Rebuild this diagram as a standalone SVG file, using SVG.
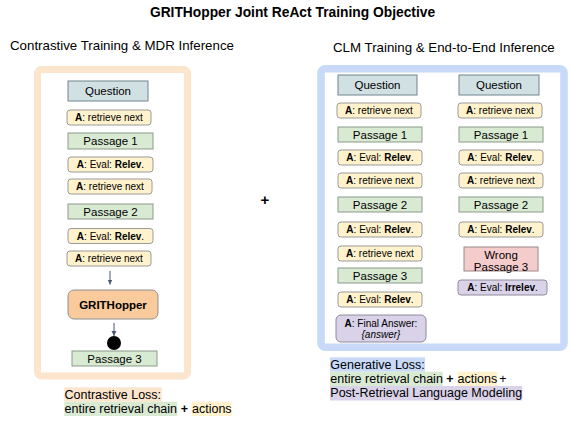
<svg xmlns="http://www.w3.org/2000/svg" width="570" height="421" viewBox="0 0 570 421">
<defs>
<style>
text{font-family:"Liberation Sans",Arial,sans-serif;fill:#000}
.title{font-size:13.8px;font-weight:bold}
.sub{font-size:13.3px}
.q{fill:#d0e0e3;stroke:#6f868c;stroke-width:1}
.p{fill:#d9ead3;stroke:#8a9a8a;stroke-width:1}
.a{fill:#fff2cc;stroke:#9a9a9a;stroke-width:1}
.l{fill:#d9d2e9;stroke:#8f8a9a;stroke-width:1}
.w{fill:#f4cccc;stroke:#9a8a8a;stroke-width:1}
.g{fill:#f9cb9c;stroke:#8f8f8f;stroke-width:1}
.nt{font-size:11.5px;text-anchor:middle}
.at{font-size:10px;text-anchor:middle}
.lg{font-size:12.5px}
.conn{stroke:#4a5870;stroke-width:1;fill:none}
</style>
<marker id="ah" markerWidth="6" markerHeight="6" refX="5" refY="3" orient="auto" markerUnits="userSpaceOnUse">
<path d="M0,0.5 L5,3 L0,5.5 Z" fill="#4a5870"/>
</marker>
</defs>
<rect width="570" height="421" fill="#fff"/>
<text class="title" x="292.5" y="17" text-anchor="middle">GRITHopper Joint ReAct Training Objective</text>
<text class="sub" x="10" y="50">Contrastive Training &amp; MDR Inference</text>
<text class="sub" x="333" y="52">CLM Training &amp; End-to-End Inference</text>
<text x="265" y="205" font-size="15" font-weight="bold" text-anchor="middle">+</text>

<g id="frame-left"><rect x="37.5" y="69.5" width="150" height="306.5" rx="4" fill="#fff" stroke="#fce5cd" stroke-width="7"/></g>
<g id="frame-right"><rect x="321" y="68.8" width="243" height="278.5" rx="4" fill="#fff" stroke="#c9daf8" stroke-width="7.6"/></g>

<!-- left column -->
<g id="l-question"><rect class="q" x="68" y="81" width="80" height="20"/><text class="nt" x="108" y="95">Question</text></g>
<g id="l-act1"><rect class="a" x="67" y="110" width="84" height="15" rx="3"/><text class="at" x="109" y="121"><tspan font-weight="bold">A</tspan>: retrieve next</text></g>
<g id="l-p1"><rect class="p" x="68" y="133" width="85" height="16"/><text class="nt" x="110.5" y="145">Passage 1</text></g>
<g id="l-eval1"><rect class="a" x="68" y="157" width="85" height="15" rx="3"/><text class="at" x="110.5" y="168"><tspan font-weight="bold">A</tspan>: Eval: <tspan font-weight="bold">Relev</tspan>.</text></g>
<g id="l-act2"><rect class="a" x="68" y="179" width="84" height="15" rx="3"/><text class="at" x="110" y="190"><tspan font-weight="bold">A</tspan>: retrieve next</text></g>
<g id="l-p2"><rect class="p" x="68" y="204" width="85" height="15"/><text class="nt" x="110.5" y="215.5">Passage 2</text></g>
<g id="l-eval2"><rect class="a" x="68" y="228.5" width="85" height="15" rx="3"/><text class="at" x="110.5" y="239.5"><tspan font-weight="bold">A</tspan>: Eval: <tspan font-weight="bold">Relev</tspan>.</text></g>
<g id="l-act3"><rect class="a" x="67" y="251" width="84" height="15" rx="3"/><text class="at" x="109" y="262"><tspan font-weight="bold">A</tspan>: retrieve next</text></g>
<g id="l-grithopper"><rect class="g" x="68" y="290" width="90" height="29" rx="6"/><text x="113" y="308.5" font-size="11.5" font-weight="bold" text-anchor="middle">GRITHopper</text></g>
<g id="l-dot"><circle cx="114" cy="343" r="7" fill="#000"/></g>
<g id="l-p3"><rect class="p" x="72" y="351" width="85" height="15"/><text class="nt" x="114.5" y="362.5">Passage 3</text></g>

<!-- right column 1 -->
<g id="r1-question"><rect class="q" x="338" y="75" width="79" height="20"/><text class="nt" x="377.5" y="89">Question</text></g>
<g id="r1-act1"><rect class="a" x="337" y="103" width="84" height="15" rx="3"/><text class="at" x="379" y="114"><tspan font-weight="bold">A</tspan>: retrieve next</text></g>
<g id="r1-p1"><rect class="p" x="338" y="127" width="84" height="15"/><text class="nt" x="380" y="138.5">Passage 1</text></g>
<g id="r1-eval1"><rect class="a" x="338" y="150" width="84" height="15" rx="3"/><text class="at" x="380" y="161"><tspan font-weight="bold">A</tspan>: Eval: <tspan font-weight="bold">Relev</tspan>.</text></g>
<g id="r1-act2"><rect class="a" x="338" y="173" width="84" height="15" rx="3"/><text class="at" x="380" y="184"><tspan font-weight="bold">A</tspan>: retrieve next</text></g>
<g id="r1-p2"><rect class="p" x="338" y="197" width="84" height="15"/><text class="nt" x="380" y="208.5">Passage 2</text></g>
<g id="r1-eval2"><rect class="a" x="338" y="222" width="84" height="15" rx="3"/><text class="at" x="380" y="233"><tspan font-weight="bold">A</tspan>: Eval: <tspan font-weight="bold">Relev</tspan>.</text></g>
<g id="r1-act3"><rect class="a" x="338" y="246" width="84" height="15" rx="3"/><text class="at" x="380" y="257"><tspan font-weight="bold">A</tspan>: retrieve next</text></g>
<g id="r1-p3"><rect class="p" x="338" y="268" width="84" height="15"/><text class="nt" x="380" y="279.5">Passage 3</text></g>
<g id="r1-eval3"><rect class="a" x="338" y="292" width="84" height="15" rx="3"/><text class="at" x="380" y="303"><tspan font-weight="bold">A</tspan>: Eval: <tspan font-weight="bold">Relev</tspan>.</text></g>
<g id="r1-final"><rect class="l" x="336" y="315" width="90" height="27" rx="5"/><text class="at" x="381" y="327"><tspan font-weight="bold">A</tspan>: Final Answer:</text><text class="at" x="381" y="338" font-style="italic">{answer}</text></g>

<!-- right column 2 -->
<g id="r2-question"><rect class="q" x="459" y="75" width="80" height="20"/><text class="nt" x="499" y="89">Question</text></g>
<g id="r2-act1"><rect class="a" x="458" y="103" width="84" height="15" rx="3"/><text class="at" x="500" y="114"><tspan font-weight="bold">A</tspan>: retrieve next</text></g>
<g id="r2-p1"><rect class="p" x="459" y="127" width="84" height="15"/><text class="nt" x="501" y="138.5">Passage 1</text></g>
<g id="r2-eval1"><rect class="a" x="459" y="150" width="84" height="15" rx="3"/><text class="at" x="501" y="161"><tspan font-weight="bold">A</tspan>: Eval: <tspan font-weight="bold">Relev</tspan>.</text></g>
<g id="r2-act2"><rect class="a" x="459" y="173" width="84" height="15" rx="3"/><text class="at" x="501" y="184"><tspan font-weight="bold">A</tspan>: retrieve next</text></g>
<g id="r2-p2"><rect class="p" x="459" y="197" width="84" height="15"/><text class="nt" x="501" y="208.5">Passage 2</text></g>
<g id="r2-eval2"><rect class="a" x="459" y="222" width="84" height="15" rx="3"/><text class="at" x="501" y="233"><tspan font-weight="bold">A</tspan>: Eval: <tspan font-weight="bold">Relev</tspan>.</text></g>
<g id="r2-wrong"><rect class="w" x="464" y="247" width="74" height="24"/><text class="nt" x="501" y="258.5">Wrong</text><text class="nt" x="501" y="270.5">Passage 3</text></g>
<g id="r2-irrelev"><rect class="l" x="458" y="280" width="89" height="15" rx="3"/><text class="at" x="502.5" y="291"><tspan font-weight="bold">A</tspan>: Eval: <tspan font-weight="bold">Irrelev</tspan>.</text></g>

<g id="connectors">
<line class="conn" x1="110" y1="271" x2="110" y2="284.5" marker-end="url(#ah)"/>
<line class="conn" x1="114" y1="323" x2="114" y2="336" marker-end="url(#ah)"/>
</g>

<!-- legends -->
<g id="legend-left">
<rect x="64.3" y="387.3" width="97.4" height="14.4" fill="#fce5cd"/>
<rect x="64.3" y="401.7" width="113" height="14.3" fill="#d9ead3"/>
<rect x="191.7" y="401.7" width="40" height="14.3" fill="#fff2cc"/>
<text class="lg" x="64.5" y="398.5">Contrastive Loss:</text>
<text class="lg" x="64.5" y="412.8">entire retrieval chain</text>
<text class="lg" x="184.3" y="412.8" font-weight="bold" text-anchor="middle">+</text>
<text class="lg" x="192" y="412.8">actions</text>
</g>
<g id="legend-right">
<rect x="330" y="357.3" width="95" height="14.4" fill="#c9daf8"/>
<rect x="330" y="371.7" width="112.7" height="14.3" fill="#d9ead3"/>
<rect x="457.3" y="371.7" width="40" height="14.3" fill="#fff2cc"/>
<rect x="330" y="386" width="192.3" height="14.5" fill="#d9d2e9"/>
<text class="lg" x="330.3" y="368.5">Generative Loss:</text>
<text class="lg" x="330.3" y="383">entire retrieval chain</text>
<text class="lg" x="450" y="383" font-weight="bold" text-anchor="middle">+</text>
<text class="lg" x="457.6" y="383">actions</text>
<text class="lg" x="503" y="383" text-anchor="middle">+</text>
<text class="lg" x="330.3" y="397.3">Post-Retrieval Language Modeling</text>
</g>
</svg>
